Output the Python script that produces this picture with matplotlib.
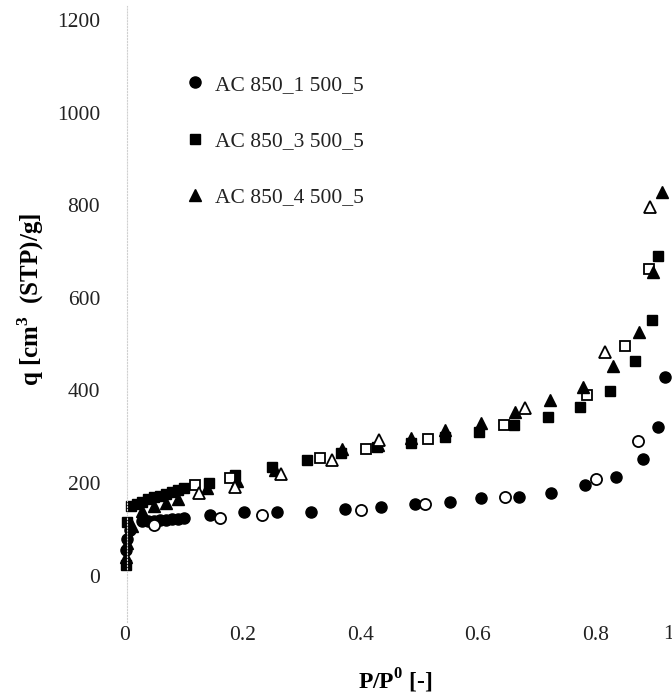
import numpy as np
import matplotlib.pyplot as plt

plt.rcParams['font.family'] = ['Liberation Serif', 'DejaVu Serif']
plt.rcParams['mathtext.fontset'] = 'custom'
plt.rcParams['mathtext.rm'] = 'Liberation Serif'
plt.rcParams['mathtext.bf'] = 'Liberation Serif:bold'

# AC 850_1 500_5 (circles)
c_ads_x = [0.002, 0.004, 0.008, 0.03, 0.04, 0.05, 0.06, 0.07, 0.08, 0.09, 0.10,
           0.145, 0.202, 0.259, 0.316, 0.374, 0.435, 0.493, 0.553, 0.606, 0.670,
           0.724, 0.782, 0.835, 0.881, 0.906, 0.918]
c_ads_q = [55, 80, 98, 117, 118, 119, 120, 121, 122, 123, 124,
           132, 137, 137, 137, 145, 148, 154, 158, 167, 169,
           178, 195, 213, 252, 321, 430]
c_des_x = [0.05, 0.162, 0.233, 0.401, 0.510, 0.646, 0.801, 0.872]
c_des_q = [110, 124, 130, 141, 154, 169, 208, 291]

# AC 850_3 500_5 (squares)
s_ads_x = [0.002, 0.004, 0.01, 0.02, 0.03, 0.04, 0.05, 0.06, 0.07, 0.08, 0.09, 0.10,
           0.143, 0.187, 0.25, 0.31, 0.367, 0.429, 0.486, 0.544, 0.602, 0.662,
           0.72, 0.774, 0.825, 0.867, 0.896, 0.906]
s_ads_q = [22, 115, 150, 155, 160, 165, 170, 173, 177, 181, 185, 190,
           200, 217, 234, 249, 265, 278, 286, 299, 310, 325,
           343, 364, 399, 464, 553, 690]
s_des_x = [0.119, 0.179, 0.332, 0.41, 0.515, 0.645, 0.786, 0.85, 0.891]
s_des_q = [195, 210, 254, 273, 295, 325, 390, 497, 662]

# AC 850_4 500_5 (triangles)
t_ads_x = [0.002, 0.004, 0.012, 0.03, 0.05, 0.07, 0.09, 0.14, 0.19, 0.255, 0.369,
           0.43, 0.486, 0.544, 0.605, 0.663, 0.723, 0.779, 0.83, 0.874, 0.898, 0.913]
t_ads_q = [40, 70, 108, 140, 150, 157, 165, 190, 205, 228, 273,
           282, 297, 315, 330, 354, 380, 408, 453, 527, 655, 829]
t_des_x = [0.126, 0.187, 0.265, 0.352, 0.432, 0.68, 0.816, 0.893]
t_des_q = [178, 191, 220, 249, 293, 362, 484, 796]

labels = ['AC 850_1 500_5', 'AC 850_3 500_5', 'AC 850_4 500_5']

fig = plt.figure(figsize=(6.72, 6.98), dpi=100)
ax = fig.add_axes([0.177, 0.109, 0.823, 0.882])

ax.plot(c_ads_x, c_ads_q, 'o', color='black', ms=8, label=labels[0])
ax.plot(c_des_x, c_des_q, 'o', mfc='white', mec='black', mew=1.3, ms=8)
ax.plot(s_ads_x, s_ads_q, 's', color='black', ms=7.5, label=labels[1])
ax.plot(s_des_x, s_des_q, 's', mfc='white', mec='black', mew=1.3, ms=7.5)
ax.plot(t_ads_x, t_ads_q, '^', color='black', ms=8.5, label=labels[2])
ax.plot(t_des_x, t_des_q, '^', mfc='white', mec='black', mew=1.3, ms=8.5)

ax.set_xlim(-0.01, 0.930)
ax.set_ylim(-100, 1230)
ax.set_xticks([0, 0.2, 0.4, 0.6, 0.8])
ax.set_xticklabels(['0', '0.2', '0.4', '0.6', '0.8'])
ax.set_yticks([0, 200, 400, 600, 800, 1000, 1200])
ax.tick_params(axis='both', length=0, labelsize=15.5, colors='#222222')
ax.tick_params(axis='y', pad=19)
ax.tick_params(axis='x', pad=3)
# last x label shifted inside the chart area
ax.text(0.993, -0.005, '1', transform=ax.transAxes, ha='center', va='top',
        fontsize=15.5, color='#222222')

for side in ['top', 'right', 'bottom']:
    ax.spines[side].set_visible(False)
ax.spines['left'].set_position(('data', 0.003))
ax.spines['left'].set_linestyle(':')
ax.spines['left'].set_color('#d0d0d0')
ax.spines['left'].set_linewidth(0.8)

ax.set_xlabel(r'P/P$^{\mathbf{0}}$ [-]', fontsize=17, fontweight='bold')
ax.xaxis.set_label_coords(0.499, -0.072)
ax.set_ylabel(r'q [cm$^{\mathbf{3}}$  (STP)/g]', fontsize=18, fontweight='bold')
ax.yaxis.set_label_coords(-0.132, 0.523)

ax.legend(loc='upper left', bbox_to_anchor=(0.08, 0.92), frameon=False,
          fontsize=15.5, labelspacing=1.68, handletextpad=0.3, handlelength=1.2,
          labelcolor='#222222')

fig.savefig('out.png', dpi=100)
